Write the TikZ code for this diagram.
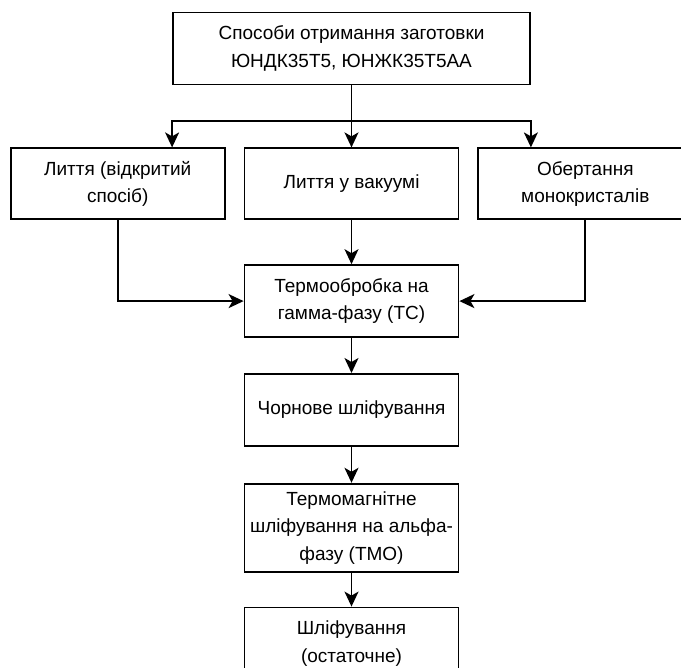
\documentclass[tikz,border=0pt]{standalone}
\usepackage{fontspec}
\setmainfont{Liberation Sans}
\usetikzlibrary{arrows.meta,positioning}

\begin{document}
\begin{tikzpicture}[
    x=1pt, y=1pt,
    node distance=18pt,
    box/.style={rectangle, draw, line width=1.8pt, inner sep=0pt, align=center,
        minimum width=214pt, minimum height=71pt,
        font=\fontsize{19}{27.5}\selectfont},
    arr/.style={line width=1.8pt, -{Stealth[length=15pt,width=14pt,inset=4pt]}}
]
    \useasboundingbox (0,0) rectangle (681,-668);
    \clip (0,0) rectangle (681,-668);

    % Source
    \node[box, minimum width=357pt, minimum height=72pt] (src) at (351.5,-48.5)
        {Способи отримання заготовки\\ЮНДК35Т5, ЮНЖК35Т5АА};
    \coordinate[below=36pt of src.south] (split);

    % Casting methods
    \node[box, below=62pt of src] (vac) {Лиття у вакуумі};
    \node[box, left=18pt of vac] (cast) {Лиття (відкритий\\спосіб)};
    \node[box, right=18pt of vac] (rot) {Обертання\\монокристалів};

    % Processing chain
    \node[box, below=44pt of vac, minimum height=72pt] (tc) {Термообробка на\\гамма-фазу (ТС)};
    \node[box, below=35pt of tc, minimum height=72pt] (rough) {Чорнове шліфування};
    \node[box, below=36pt of rough, minimum height=88pt] (tmo)
        {Термомагнітне\\шліфування на альфа-\\фазу (ТМО)};
    \node[box, below=34pt of tmo, minimum height=72pt] (fine) {Шліфування\\(остаточне)};

    % Edges
    \draw[arr] (src.south) -- (vac.north);
    \draw[arr] (split) -| (cast.north -| src.south west);
    \draw[arr] (split) -| (rot.north -| src.south east);
    \draw[arr] (vac) -- (tc);
    \draw[arr] (cast.south) |- (tc.west);
    \draw[arr] (rot.south) |- (tc.east);
    \draw[arr] (tc) -- (rough);
    \draw[arr] (rough) -- (tmo);
    \draw[arr] (tmo) -- (fine);
\end{tikzpicture}
\end{document}
